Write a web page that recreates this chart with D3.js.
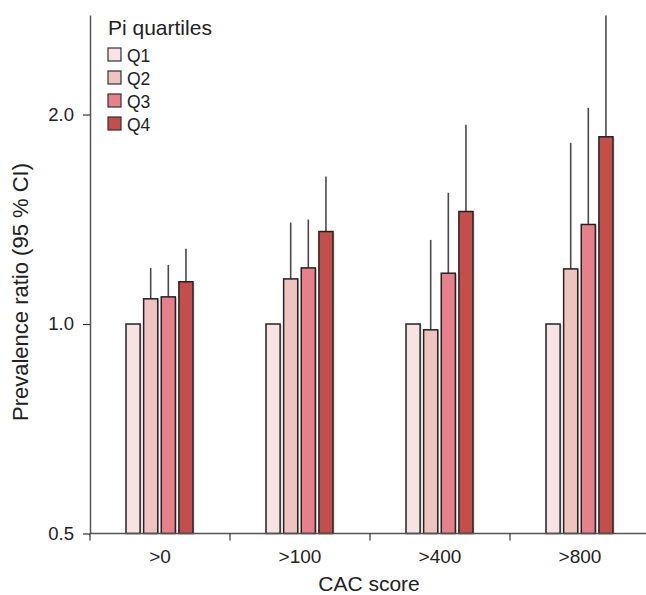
<!DOCTYPE html>
<html lang="en">
<head>
    <meta charset="UTF-8">
    <title>Prevalence ratio by CAC score and Pi quartiles</title>
    <script src="https://d3js.org/d3.v7.min.js"></script>
    <style>
        body {
            margin: 0;
            background: #fff;
        }

        svg text {
            font-family: "Liberation Sans", Arial, Helvetica, sans-serif;
            fill: #222;
        }
    </style>
</head>
<body>
    <div id="chart"></div>
    <script>
        // data
        const categories = ['>0', '>100', '>400', '>800'];
        const quartiles = ['Q1', 'Q2', 'Q3', 'Q4'];
        const ratios = {
            Q1: [1.0, 1.0, 1.0, 1.0],
            Q2: [1.087, 1.161, 0.981, 1.20],
            Q3: [1.094, 1.204, 1.183, 1.39],
            Q4: [1.150, 1.358, 1.451, 1.858]
        };
        const upperCI = {
            Q1: [null, null, null, null],
            Q2: [1.204, 1.399, 1.321, 1.821],
            Q3: [1.216, 1.413, 1.544, 2.045],
            Q4: [1.283, 1.629, 1.933, 2.776]
        };
        const yTicks = [0.5, 1.0, 2.0];
        const colors = ['#f7e3e3', '#efc3c0', '#e8808b', '#c44e4c'];

        const width = 646;
        const height = 595;

        const svg = d3.select('#chart')
            .append('svg')
            .attr('width', width)
            .attr('height', height);

        const x0 = d3.scaleBand()
            .domain(categories)
            .range([90, 650])
            .padding(0);

        const x1 = d3.scaleBand()
            .domain(quartiles)
            .range([36, 103])
            .paddingInner(0.2)
            .paddingOuter(0);

        const y = d3.scaleLog()
            .domain([0.5, 2.78])
            .range([533.5, 15]);

        const color = d3.scaleOrdinal().domain(quartiles).range(colors);

        // flatten for drawing
        const rows = [];
        categories.forEach((c, i) => {
            quartiles.forEach(q => {
                rows.push({ cat: c, q: q, value: ratios[q][i], upper: upperCI[q][i] });
            });
        });

        const groups = svg.append('g');

        // error bars (upper only)
        groups.selectAll('.err')
            .data(rows.filter(d => d.upper !== null))
            .enter().append('line')
            .attr('class', 'err')
            .attr('x1', d => x0(d.cat) + x1(d.q) + x1.bandwidth() / 2)
            .attr('x2', d => x0(d.cat) + x1(d.q) + x1.bandwidth() / 2)
            .attr('y1', d => y(d.value))
            .attr('y2', d => y(d.upper))
            .attr('stroke', '#4a4a4a')
            .attr('stroke-width', 1.6);

        // faint shadow on the right of each bar
        groups.selectAll('.shadow')
            .data(rows)
            .enter().append('rect')
            .attr('class', 'shadow')
            .attr('x', d => x0(d.cat) + x1(d.q) + 1.5)
            .attr('y', d => y(d.value) + 1)
            .attr('width', x1.bandwidth())
            .attr('height', d => y(0.5) - y(d.value) - 1)
            .attr('fill', '#d4d4d4');

        groups.selectAll('.bar')
            .data(rows)
            .enter().append('rect')
            .attr('class', 'bar')
            .attr('x', d => x0(d.cat) + x1(d.q))
            .attr('y', d => y(d.value))
            .attr('width', x1.bandwidth())
            .attr('height', d => y(0.5) - y(d.value))
            .attr('fill', d => color(d.q))
            .attr('stroke', '#222')
            .attr('stroke-width', 1.5);

        // y axis
        const yAxis = svg.append('g')
            .attr('transform', 'translate(90,0)')
            .call(d3.axisLeft(y).tickValues(yTicks).tickFormat(d3.format('.1f')).tickSize(7).tickPadding(9).tickSizeOuter(0));
        yAxis.select('.domain').attr('stroke', '#555').attr('stroke-width', 1.5);
        yAxis.selectAll('.tick line').attr('stroke', '#333').attr('stroke-width', 1.2);
        yAxis.selectAll('.tick text').attr('font-size', 18.5).attr('fill', '#222');

        // x axis: line, ticks at band edges, labels at band centres
        const xAxis = svg.append('g').attr('transform', `translate(0,${y(0.5)})`);
        xAxis.append('line')
            .attr('x1', 90).attr('x2', 650)
            .attr('stroke', '#555').attr('stroke-width', 1.5);
        xAxis.selectAll('.xtick')
            .data(categories)
            .enter().append('line')
            .attr('class', 'xtick')
            .attr('x1', d => x0(d)).attr('x2', d => x0(d))
            .attr('y1', 0).attr('y2', 7)
            .attr('stroke', '#333').attr('stroke-width', 1.2);
        xAxis.selectAll('.xlabel')
            .data(categories)
            .enter().append('text')
            .attr('class', 'xlabel')
            .attr('x', d => x0(d) + x0.bandwidth() / 2)
            .attr('y', 29)
            .attr('text-anchor', 'middle')
            .attr('font-size', 19)
            .text(d => d);

        // axis titles
        svg.append('text')
            .attr('x', 369)
            .attr('y', 591)
            .attr('text-anchor', 'middle')
            .attr('font-size', 21)
            .text('CAC score');

        svg.append('text')
            .attr('transform', 'translate(28,292) rotate(-90)')
            .attr('text-anchor', 'middle')
            .attr('font-size', 22)
            .text('Prevalence ratio (95 % CI)');

        // legend
        const legend = svg.append('g').attr('transform', 'translate(108,0)');
        legend.append('text')
            .attr('x', 0)
            .attr('y', 35)
            .attr('font-size', 21)
            .text('Pi quartiles');

        const items = legend.selectAll('.item')
            .data(quartiles)
            .enter().append('g')
            .attr('class', 'item')
            .attr('transform', (d, i) => `translate(0,${48 + i * 23})`);
        items.append('rect')
            .attr('width', 13)
            .attr('height', 13)
            .attr('fill', d => color(d))
            .attr('stroke', '#333')
            .attr('stroke-width', 1.2);
        items.append('text')
            .attr('x', 19)
            .attr('y', 14)
            .attr('font-size', 17.5)
            .text(d => d);
    </script>
</body>
</html>
